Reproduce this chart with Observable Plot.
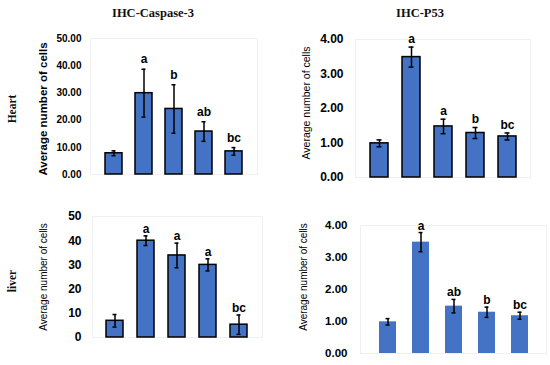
<!DOCTYPE html>
<html>
<head>
<meta charset="utf-8">
<script src="https://cdn.jsdelivr.net/npm/d3@7"></script>
<script src="https://cdn.jsdelivr.net/npm/@observablehq/plot@0.6"></script>
<style>
  html, body { margin: 0; padding: 0; background: #fff; }
  #root { position: relative; width: 550px; height: 365px; overflow: hidden; background: #fff; }
  .panel { position: absolute; }
  .txt { position: absolute; white-space: nowrap; color: #000; }
  .title { font-family: "Liberation Serif", "Times New Roman", serif; font-weight: bold; font-size: 12.5px; color: #111; transform: translate(-50%, -50%); }
  .row { font-family: "Liberation Serif", "Times New Roman", serif; font-weight: bold; font-size: 11.5px; color: #111; transform: translate(-50%, -50%) rotate(-90deg); }
  .ytitle { font-family: "Liberation Sans", Arial, sans-serif; transform: translate(-50%, -50%) rotate(-90deg); }
</style>
</head>
<body>
<div id="root"></div>
<script>
const groups = ["G1", "G2", "G3", "G4", "G5"];

const heartCasp = [7.8, 29.9, 24.1, 15.8, 8.5];
const heartCaspErr = [0.9, 8.8, 8.9, 3.6, 1.4];
const heartCaspLetters = ["", "a", "b", "ab", "bc"];

const heartP53 = [0.99, 3.49, 1.48, 1.29, 1.19];
const heartP53Err = [0.1, 0.29, 0.21, 0.16, 0.1];
const heartP53Letters = ["", "a", "a", "b", "bc"];

const liverCasp = [6.9, 40.0, 33.9, 30.0, 5.3];
const liverCaspErr = [2.6, 2.0, 5.1, 2.5, 4.0];
const liverCaspLetters = ["", "a", "a", "a", "bc"];

const liverP53 = [0.99, 3.48, 1.48, 1.29, 1.18];
const liverP53Err = [0.1, 0.3, 0.21, 0.16, 0.11];
const liverP53Letters = ["", "a", "ab", "b", "bc"];

const caspTicks = [0, 10, 20, 30, 40, 50];
const p53Ticks = [0, 1, 2, 3, 4];

const titles = ["IHC-Caspase-3", "IHC-P53"];
const rows = ["Heart", "liver"];
const yTitle = "Average number of cells";

const root = document.getElementById("root");

function rowsOf(values, errs, letters) {
  return groups.map((g, i) => ({g, v: values[i], e: errs[i], lab: letters[i]}));
}

function panel(cfg) {
  const data = rowsOf(cfg.values, cfg.errs, cfg.letters);
  const chart = Plot.plot({
    width: 275,
    height: 185,
    marginTop: cfg.mt, marginBottom: cfg.mb, marginLeft: cfg.ml, marginRight: cfg.mr,
    style: {background: "transparent", overflow: "visible"},
    x: {type: "band", domain: groups, padding: cfg.pad, axis: null},
    y: {domain: cfg.domain},
    marks: [
      Plot.frame({stroke: "#f0f0f0", strokeWidth: 1}),
      Plot.axisY({
        ticks: cfg.ticks, tickFormat: cfg.fmt, tickSize: 0, tickPadding: cfg.tp,
        fontSize: cfg.tfs, fontWeight: "bold", fontFamily: "Liberation Sans, Arial, sans-serif",
        label: null, fill: "#000"
      }),
      Plot.barY(data, {x: "g", y: "v", fill: "#4472C4",
        stroke: cfg.barStroke ? "#000" : "none", strokeWidth: 1.5}),
      Plot.ruleX(data, {x: "g", y1: d => d.v - d.e, y2: d => d.v + d.e, stroke: "#000", strokeWidth: 1.5}),
      Plot.tickY(data, {x: "g", y: d => d.v + d.e, stroke: "#000", strokeWidth: 1.5, insetLeft: 6.5, insetRight: 6.5}),
      Plot.tickY(data, {x: "g", y: d => d.v - d.e, stroke: "#000", strokeWidth: 1.5, insetLeft: 6.5, insetRight: 6.5}),
      Plot.text(data, {x: "g", y: d => d.v + d.e, text: "lab", lineAnchor: "bottom", dy: cfg.ldy,
        fontSize: 12, fontWeight: "bold", fontFamily: "Liberation Sans, Arial, sans-serif", fill: "#000"})
    ]
  });
  const wrap = document.createElement("div");
  wrap.className = "panel";
  wrap.style.left = cfg.left + "px";
  wrap.style.top = cfg.top + "px";
  wrap.appendChild(chart);
  root.appendChild(wrap);

  const yt = document.createElement("div");
  yt.className = "txt ytitle";
  yt.textContent = yTitle;
  yt.style.left = cfg.ytx + "px";
  yt.style.top = cfg.yty + "px";
  yt.style.fontSize = cfg.ytfs + "px";
  yt.style.fontWeight = cfg.ytbold ? "bold" : "normal";
  root.appendChild(yt);
}

panel({left: 0, top: 0, mt: 38, mb: 11, ml: 90, mr: 18, pad: 0.43,
  values: heartCasp, errs: heartCaspErr, letters: heartCaspLetters,
  domain: [0, 50], ticks: caspTicks, fmt: d3.format(".2f"), tp: 9, tfs: 10,
  barStroke: true, ldy: -6, ytx: 43, yty: 109, ytfs: 11.5, ytbold: true});

panel({left: 275, top: 0, mt: 39, mb: 8, ml: 80, mr: 20, pad: 0.44,
  values: heartP53, errs: heartP53Err, letters: heartP53Letters,
  domain: [0, 4], ticks: p53Ticks, fmt: d3.format(".2f"), tp: 12, tfs: 12,
  barStroke: true, ldy: -4, ytx: 306, yty: 103, ytfs: 10.5, ytbold: false});

panel({left: 0, top: 180, mt: 36, mb: 28, ml: 92, mr: 13, pad: 0.44,
  values: liverCasp, errs: liverCaspErr, letters: liverCaspLetters,
  domain: [0, 50], ticks: caspTicks, fmt: d3.format("d"), tp: 11, tfs: 12,
  barStroke: true, ldy: -3, ytx: 43, yty: 277, ytfs: 10, ytbold: false});

panel({left: 275, top: 180, mt: 45, mb: 12, ml: 85, mr: 4, pad: 0.49,
  values: liverP53, errs: liverP53Err, letters: liverP53Letters,
  domain: [0, 4], ticks: p53Ticks, fmt: d3.format(".2f"), tp: 13, tfs: 11.5,
  barStroke: false, ldy: -3, ytx: 303, yty: 277, ytfs: 10, ytbold: false});

function addText(cls, text, x, y) {
  const el = document.createElement("div");
  el.className = "txt " + cls;
  el.textContent = text;
  el.style.left = x + "px";
  el.style.top = y + "px";
  root.appendChild(el);
}
addText("title", titles[0], 153, 13);
addText("title", titles[1], 420, 13);
addText("row", rows[0], 12, 109);
addText("row", rows[1], 12, 281);
</script>
</body>
</html>
